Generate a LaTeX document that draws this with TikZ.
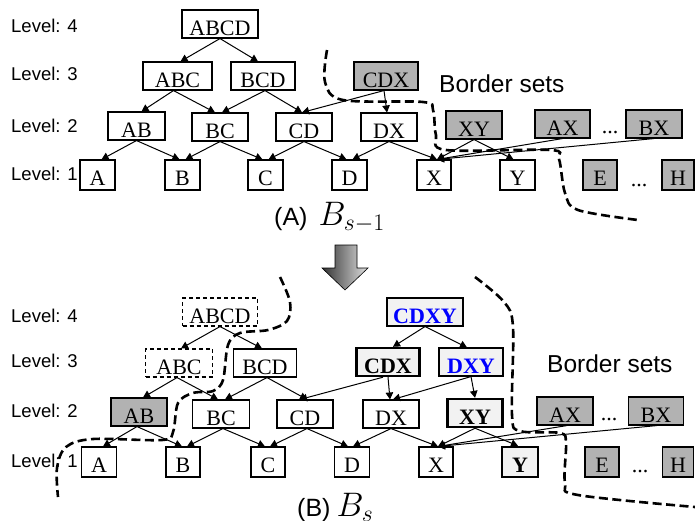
\documentclass[tikz,border=0pt]{standalone}
\usepackage{fix-cm}
\usepackage{fontspec}
\setmainfont{Liberation Serif}
\newfontfamily\arial{Liberation Sans}
\usetikzlibrary{arrows.meta}

\definecolor{setgray}{gray}{0.70}
\definecolor{newfill}{gray}{0.95}
\definecolor{newblue}{rgb}{0,0,1}

\begin{document}
\begin{tikzpicture}[x=1pt,y=-1pt,
  setbox/.style={draw, line width=1.1pt, inner sep=0pt, text height=25pt, text depth=3pt,
                 font=\fontsize{22}{24}\selectfont},
  single/.style={setbox, text depth=5pt},
  bordered/.style={fill=setgray},
  pruned/.style={dash pattern=on 4pt off 3pt},
  fresh/.style={fill=newfill, line width=2.4pt, font=\fontsize{22}{24}\selectfont\bfseries},
  freshblue/.style={fill=newfill, text=newblue, font=\fontsize{22}{24}\selectfont\bfseries},
  lvl/.style={anchor=base west, inner sep=0pt, font=\arial\fontsize{18.5}{20}\selectfont},
  bigtext/.style={anchor=base west, inner sep=0pt, font=\arial\fontsize{24.5}{28}\selectfont},
  captext/.style={anchor=base west, inner sep=0pt, font=\arial\fontsize{25}{28}\selectfont},
  dots/.style={anchor=base, inner sep=0pt, font=\fontsize{22}{24}\selectfont},
  link/.style={-{Triangle[length=7pt,width=7.5pt]}, line width=1pt},
  frontier/.style={line width=2.6pt, dash pattern=on 9pt off 4.5pt, line cap=butt}
]
\useasboundingbox (0,0) rectangle (695,520);

% ---------------- (A) ----------------
\node[lvl] (tl4) at (11,32)  {Level: 4};
\node[lvl] (tl3) at (11,80)  {Level: 3};
\node[lvl] (tl2) at (11,132) {Level: 2};
\node[lvl] (tl1) at (11,180) {Level: 1};

\node[setbox, minimum width=76pt] (tABCD) at (220,24) {ABCD};
\node[setbox, minimum width=69pt] (tABC) at (177.5,76) {ABC};
\node[setbox, minimum width=64pt] (tBCD) at (263,76) {BCD};
\node[setbox, bordered, minimum width=64pt] (tCDX) at (386,76) {CDX};

\node[setbox, minimum width=57pt] (tAB) at (136.5,126) {AB};
\node[setbox, minimum width=56pt] (tBC) at (220,127) {BC};
\node[setbox, minimum width=56pt] (tCD) at (304,127) {CD};
\node[setbox, minimum width=56pt] (tDX) at (389,127) {DX};
\node[setbox, bordered, minimum width=56pt] (tXY) at (474,125) {XY};
\node[setbox, bordered, minimum width=55pt] (tAX) at (562.5,124) {AX};
\node[dots] (tdots2) at (610,133) {...};
\node[setbox, bordered, minimum width=56pt] (tBX) at (654,124) {BX};

\node[single, minimum width=35pt] (tA) at (97.5,175) {A};
\node[single, minimum width=35pt] (tB) at (182.5,175) {B};
\node[single, minimum width=35pt] (tC) at (265.5,175) {C};
\node[single, minimum width=35pt] (tD) at (349.5,175) {D};
\node[single, minimum width=34pt] (tX) at (434,175) {X};
\node[single, minimum width=35pt] (tY) at (517.5,175) {Y};
\node[single, bordered, minimum width=34pt] (tE) at (600,175) {E};
\node[dots] (tdots1) at (639,186) {...};
\node[single, bordered, minimum width=32pt] (tH) at (678,175) {H};

\node[bigtext] (tborder) at (439,92) {Border sets};
\node[captext] (tcap) at (274,225) {(A)\hspace{11pt}\scalebox{1.36}{$B_{s-1}$}};

\draw[link] (tABCD.south) -- ([xshift=3]tABC.north);
\draw[link] (tABCD.south) -- ([xshift=-5]tBCD.north);
\draw[link] ([xshift=-4]tABC.south) -- ([xshift=5]tAB.north);
\draw[link] ([xshift=-4]tABC.south) -- ([xshift=-5]tBC.north);
\draw[link] ([xshift=2]tBCD.south) -- ([xshift=2]tBC.north);
\draw[link] ([xshift=2]tBCD.south) -- ([xshift=-2]tCD.north);
\draw[link] ([xshift=-2]tCDX.south) -- ([xshift=-2]tCD.north);
\draw[link] ([xshift=-2]tCDX.south) -- ([xshift=-2]tDX.north);
\draw[link] (tAB.south) -- ([xshift=4]tA.north);
\draw[link] (tAB.south) -- ([xshift=-3]tB.north);
\draw[link] (tBC.south) -- ([xshift=3]tB.north);
\draw[link] (tBC.south) -- ([xshift=-3]tC.north);
\draw[link] (tCD.south) -- ([xshift=3]tC.north);
\draw[link] (tCD.south) -- ([xshift=-3]tD.north);
\draw[link] (tDX.south) -- ([xshift=3]tD.north);
\draw[link] (tDX.south) -- ([xshift=3]tX.north);
\draw[link] (tXY.south) -- ([xshift=3]tX.north);
\draw[link] (tXY.south) -- ([xshift=-4]tY.north);
\draw[link] (tAX.south) -- ([xshift=3]tX.north);
\draw[link] (tBX.south) -- ([xshift=3]tX.north);

\draw[frontier] plot[smooth, tension=0.55] coordinates
  {(327,50) (325,82) (343,100) (423,102) (433,110) (436,135) (446,150) (550,150)
   (559,159) (565,193) (578,210) (638,220)};

% ---------------- transition ----------------
\shade[left color=black!80, right color=black!12, draw=black, line width=0.6pt]
  (335,245) -- (357,245) -- (357,268) -- (368,268) -- (345,290) -- (322,268) -- (335,268) -- cycle;

% ---------------- (B) ----------------
\node[lvl] (bl4) at (11,322) {Level: 4};
\node[lvl] (bl3) at (11,367) {Level: 3};
\node[lvl] (bl2) at (11,417) {Level: 2};
\node[lvl] (bl1) at (11,467) {Level: 1};

\node[setbox, pruned, minimum width=75pt] (bABCD) at (220,312) {ABCD};
\node[setbox, pruned, minimum width=67pt] (bABC) at (179,363) {ABC};
\node[setbox, minimum width=63pt] (bBCD) at (265,363) {BCD};
\node[setbox, fresh, minimum width=63pt] (bCDX) at (388,362) {CDX};
\node[setbox, freshblue, minimum width=64pt] (bDXY) at (471,362) {DXY};
\node[setbox, freshblue, minimum width=76pt] (bCDXY) at (425,312) {CDXY};

\node[setbox, bordered, minimum width=56pt] (bAB) at (139,412) {AB};
\node[setbox, minimum width=57pt] (bBC) at (221,414) {BC};
\node[setbox, minimum width=56pt] (bCD) at (305,414) {CD};
\node[setbox, minimum width=56pt] (bDX) at (391,414) {DX};
\node[setbox, fresh, minimum width=55pt] (bXY) at (475,413) {XY};
\node[setbox, bordered, minimum width=56pt] (bAX) at (565,411) {AX};
\node[dots] (bdots2) at (609,420) {...};
\node[setbox, bordered, minimum width=55pt] (bBX) at (656,411) {BX};

\node[single, minimum width=35pt] (bA) at (99,462) {A};
\node[single, minimum width=34pt] (bB) at (183,462) {B};
\node[single, minimum width=34pt] (bC) at (268,462) {C};
\node[single, minimum width=35pt] (bD) at (352,462) {D};
\node[single, minimum width=34pt] (bX) at (436,462) {X};
\node[single, fresh, minimum width=36pt] (bY) at (520,462) {Y};
\node[single, bordered, minimum width=34pt] (bE) at (602,462) {E};
\node[dots] (bdots1) at (640,472) {...};
\node[single, bordered, minimum width=31pt] (bH) at (678,462) {H};

\node[bigtext] (bborder) at (547,372) {Border sets};
\node[captext] (bcap) at (297,516) {(B)\hspace{6pt}\scalebox{1.36}{$B_{s}$}};

\draw[link] (bABCD.south) -- ([xshift=2]bABC.north);
\draw[link] (bABCD.south) -- ([xshift=-3]bBCD.north);
\draw[link] ([xshift=-2]bABC.south) -- ([xshift=4]bAB.north);
\draw[link] ([xshift=-2]bABC.south) -- ([xshift=-3]bBC.north);
\draw[link] ([xshift=2]bBCD.south) -- ([xshift=4]bBC.north);
\draw[link] ([xshift=2]bBCD.south) -- ([xshift=2]bCD.north);
\draw[link] ([xshift=-5]bCDX.south) -- ([xshift=-5]bCD.north);
\draw[link] (bCDX.south) -- ([xshift=-1]bDX.north);
\draw[link] (bDXY.south) -- ([xshift=2]bDX.north);
\draw[link] (bDXY.south) -- (bXY.north);
\draw[link] (bCDXY.south) -- ([xshift=5]bCDX.north);
\draw[link] (bCDXY.south) -- ([xshift=-4]bDXY.north);
\draw[link] ([xshift=-2]bAB.south) -- ([xshift=4]bA.north);
\draw[link] ([xshift=-2]bAB.south) -- ([xshift=-1]bB.north);
\draw[link] ([xshift=2]bBC.south) -- ([xshift=4]bB.north);
\draw[link] ([xshift=2]bBC.south) -- ([xshift=-3]bC.north);
\draw[link] ([xshift=2]bCD.south) -- ([xshift=2]bC.north);
\draw[link] ([xshift=2]bCD.south) -- ([xshift=-4]bD.north);
\draw[link] (bDX.south) -- ([xshift=1]bD.north);
\draw[link] (bDX.south) -- ([xshift=2]bX.north);
\draw[link] (bXY.south) -- ([xshift=2]bX.north);
\draw[link] (bXY.south) -- ([xshift=-2]bY.north);
\draw[link] ([xshift=2]bAX.south) -- ([xshift=2]bX.north);
\draw[link] ([xshift=1]bBX.south) -- ([xshift=2]bX.north);

\draw[frontier] plot[smooth, tension=0.55] coordinates
  {(280,277) (290,302) (287,321) (268,330) (240,333) (228,345) (223,380) (213,391)
   (193,393) (178,403) (173,432) (162,440) (93,439) (66,447) (57,468) (58,497)};
\draw[frontier] plot[smooth, tension=0.55] coordinates
  {(475,277) (504,302) (513,327) (512,415) (520,431) (560,433) (566,443) (565,483)
   (578,495) (695,507)};
\end{tikzpicture}
\end{document}
